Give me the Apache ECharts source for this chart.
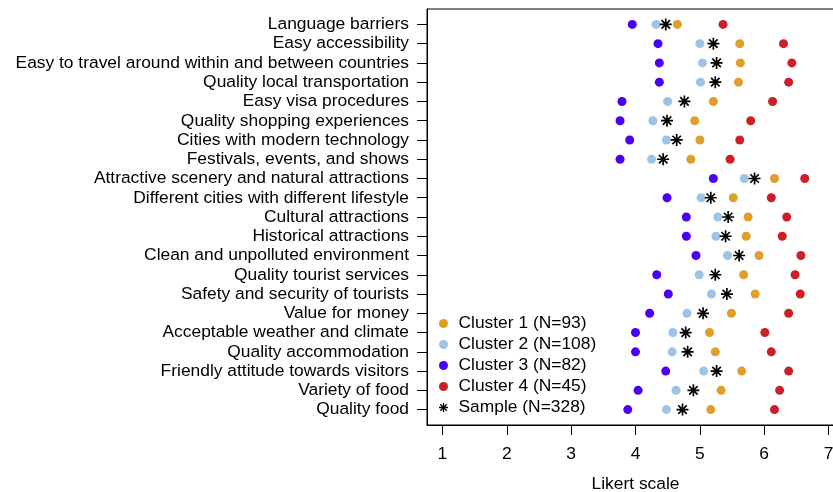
<!DOCTYPE html>
<html lang="en">
<head>
    <meta charset="UTF-8">
    <title>Likert scale by cluster</title>
    <script src="https://cdn.jsdelivr.net/npm/echarts@6/dist/echarts.min.js"></script>
</head>
<style>
    html, body {
        margin: 0;
        padding: 0;
        background: #ffffff;
    }

    #chart {
        width: 833px;
        height: 492px;
    }
</style>
<body>
<div id="chart"></div>
<script type="text/javascript">
    // 属性名称（从上到下）
    const attributes = [
        'Language barriers',
        'Easy accessibility',
        'Easy to travel around within and between countries',
        'Quality local transportation',
        'Easy visa procedures',
        'Quality shopping experiences',
        'Cities with modern technology',
        'Festivals, events, and shows',
        'Attractive scenery and natural attractions',
        'Different cities with different lifestyle',
        'Cultural attractions',
        'Historical attractions',
        'Clean and unpolluted environment',
        'Quality tourist services',
        'Safety and security of tourists',
        'Value for money',
        'Acceptable weather and climate',
        'Quality accommodation',
        'Friendly attitude towards visitors',
        'Variety of food',
        'Quality food'
    ];
    const cluster1 = [4.65, 5.62, 5.63, 5.60, 5.21, 4.92, 5.00, 4.86, 6.16, 5.52, 5.75, 5.72, 5.92, 5.68, 5.86, 5.49, 5.15, 5.24, 5.65, 5.33, 5.17];
    const cluster2 = [4.32, 5.00, 5.04, 5.01, 4.50, 4.27, 4.48, 4.25, 5.69, 5.02, 5.28, 5.25, 5.43, 4.99, 5.18, 4.80, 4.58, 4.57, 5.06, 4.63, 4.48];
    const cluster3 = [3.95, 4.35, 4.37, 4.37, 3.79, 3.76, 3.91, 3.76, 5.21, 4.49, 4.79, 4.79, 4.94, 4.33, 4.51, 4.22, 4.00, 4.00, 4.47, 4.04, 3.88];
    const cluster4 = [5.36, 6.30, 6.43, 6.38, 6.13, 5.79, 5.62, 5.47, 6.63, 6.11, 6.35, 6.28, 6.57, 6.48, 6.56, 6.38, 6.01, 6.11, 6.38, 6.24, 6.16];
    const sample = [4.47, 5.21, 5.26, 5.24, 4.76, 4.49, 4.64, 4.43, 5.85, 5.17, 5.44, 5.40, 5.61, 5.24, 5.42, 5.05, 4.78, 4.81, 5.26, 4.90, 4.73];
    const xTicks = [1, 2, 3, 4, 5, 6, 7];
    const seriesNames = ['Cluster 1 (N=93)', 'Cluster 2 (N=108)', 'Cluster 3 (N=82)', 'Cluster 4 (N=45)', 'Sample (N=328)'];

    const font = 'Liberation Sans, Arial, Helvetica, sans-serif';
    const fontSize = 17.4;
    // 星号 (R pch=8)
    const star = 'path://M8.6 0L11.4 0L11.4 20L8.6 20Z' +
        'M0 8.6L20 8.6L20 11.4L0 11.4Z' +
        'M3.92 1.94L18.06 16.08L16.08 18.06L1.94 3.92Z' +
        'M16.08 1.94L18.06 3.92L3.92 18.06L1.94 16.08Z';

    function toPoints(values) {
        return values.map((v, i) => [v, i + 1]);
    }

    function dotSeries(name, values, color, symbol, size) {
        return {
            name: name,
            type: 'scatter',
            data: toPoints(values),
            symbol: symbol,
            symbolSize: size,
            itemStyle: {color: color, opacity: 1},
            emphasis: {disabled: true}
        };
    }

    const yTicks = attributes.map((a, i) => i + 1);

    const myChart = echarts.init(document.getElementById('chart'), null, {renderer: 'canvas'});
    myChart.setOption({
        animation: false,
        backgroundColor: '#ffffff',
        grid: {
            left: 427,
            top: 9,
            width: 417,
            bottom: 67,
            show: true,
            borderColor: '#000',
            borderWidth: 1,
            containLabel: false,
            outerBoundsMode: 'none'
        },
        legend: {
            orient: 'vertical',
            left: 439,
            top: 315,
            padding: 0,
            itemWidth: 20,
            itemHeight: 9,
            itemGap: 4,
            data: seriesNames,
            textStyle: {fontSize: fontSize, color: '#000', fontFamily: font}
        },
        xAxis: {
            type: 'value',
            min: 0.76,
            max: 7.24,
            name: 'Likert scale',
            nameLocation: 'middle',
            nameGap: 51,
            nameTextStyle: {fontSize: fontSize, color: '#000', fontFamily: font},
            axisLine: {show: true, lineStyle: {color: '#000', width: 1}},
            axisTick: {show: true, length: 10, customValues: xTicks, lineStyle: {color: '#000'}},
            axisLabel: {customValues: xTicks, margin: 21, fontSize: fontSize, color: '#000', fontFamily: font},
            splitLine: {show: false}
        },
        yAxis: {
            type: 'value',
            inverse: true,
            min: 0.2,
            max: 21.8,
            axisLine: {show: true, lineStyle: {color: '#000', width: 1}},
            axisTick: {show: true, length: 10, customValues: yTicks, lineStyle: {color: '#000'}},
            axisLabel: {
                customValues: yTicks,
                margin: 18,
                fontSize: fontSize,
                color: '#000',
                fontFamily: font,
                formatter: (v) => attributes[Math.round(v) - 1] || ''
            },
            splitLine: {show: false}
        },
        series: [
            dotSeries(seriesNames[0], cluster1, '#e09e2b', 'circle', 9),
            dotSeries(seriesNames[1], cluster2, '#9dc3e6', 'circle', 9),
            dotSeries(seriesNames[2], cluster3, '#4a00f5', 'circle', 9),
            dotSeries(seriesNames[3], cluster4, '#cc1f26', 'circle', 9),
            dotSeries(seriesNames[4], sample, '#000000', star, 12)
        ]
    });
</script>
</body>
</html>
